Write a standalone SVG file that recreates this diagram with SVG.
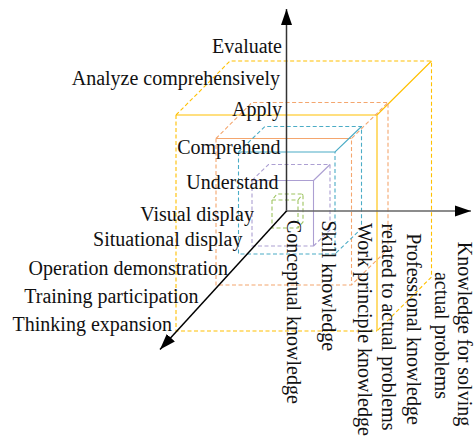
<svg xmlns="http://www.w3.org/2000/svg" width="476" height="441" viewBox="0 0 476 441">
<defs>
<marker id="ah" markerUnits="userSpaceOnUse" markerWidth="17" markerHeight="12" refX="16" refY="6" orient="auto">
<path d="M0,0.5 L16,6 L0,11.5 z" fill="#000"/>
</marker>
<style>
.t{font-family:"Liberation Serif","Times New Roman",serif;font-size:20px;fill:#111}
.c{fill:none;stroke-width:1.1}
.d{stroke-dasharray:4 2.5}
.y{stroke:#FFC000}.o{stroke:#F4A66E}.cy{stroke:#4BACC6}.p{stroke:#AC9FD2}.g{stroke:#9DC45F}
</style>
</defs>
<rect width="476" height="441" fill="#fff"/>

<g id="cube-yellow" class="c y">
<path class="d" d="M176,115 V331 H377 M176,115 L230,61 H431.5 V277 L377,331"/>
<path d="M176,115 H377 V331 M377,115 L431.5,61"/>
</g>
<g id="cube-orange" class="c o">
<path class="d" d="M216,138.5 V285 H351.5 V138.5 L388,102.5 V249 L351.5,285 M216,138.5 L252,102.5 H388"/>
<path d="M216,138.5 H351.5"/>
</g>
<g id="cube-cyan" class="c cy">
<path class="d" d="M238.5,152 V254 H335 V152 M238.5,152 L265,126.5 H361.5 V228.5 L335,254"/>
<path d="M238.5,152 H335 L361.5,126.5"/>
</g>
<g id="cube-purple" class="c p">
<path class="d" d="M252,180.5 V246 H313.5 M252,180.5 L268.5,164.5 H330 V230 L313.5,246"/>
<path d="M252,180.5 H313.5 V246 M313.5,180.5 L330,164.5"/>
</g>
<g id="cube-green" class="c g">
<path class="d" d="M272,200 V228 H298 V200 H272 L277,194 H303 V222 L298,228 M298,200 L303,194"/>
</g>

<g id="axes" fill="none" stroke-width="1.5">
<line x1="286.5" y1="212" x2="286.5" y2="9" stroke="#333" marker-end="url(#ah)"/>
<line x1="286" y1="211" x2="471" y2="211" stroke="#666" marker-end="url(#ah)"/>
<line x1="286.5" y1="211" x2="160" y2="349.5" stroke="#000" marker-end="url(#ah)"/>
</g>

<g id="labels-vertical" class="t" text-anchor="end">
<text x="282" y="52.5">Evaluate</text>
<text x="280" y="85">Analyze comprehensively</text>
<text x="282" y="116">Apply</text>
<text x="280.5" y="153.5">Comprehend</text>
<text x="278.5" y="188.5">Understand</text>
</g>
<g id="labels-diagonal" class="t" text-anchor="end">
<text x="254" y="221">Visual display</text>
<text x="242.5" y="246">Situational display</text>
<text x="228" y="275">Operation demonstration</text>
<text x="198.5" y="302.5">Training participation</text>
<text x="172" y="331">Thinking expansion</text>
</g>
<g id="labels-horizontal" class="t">
<text transform="translate(286.5,220) rotate(90)">Conceptual knowledge</text>
<text transform="translate(322,220.5) rotate(90)">Skill knowledge</text>
<text transform="translate(357.5,223) rotate(90)">Work principle knowledge</text>
<text transform="translate(407,329) rotate(90)" text-anchor="middle">Professional knowledge</text>
<text transform="translate(382,327) rotate(90)" text-anchor="middle">related to actual problems</text>
<text transform="translate(457.5,334) rotate(90)" text-anchor="middle">Knowledge for solving</text>
<text transform="translate(435,335.5) rotate(90)" text-anchor="middle">actual problems</text>
</g>
</svg>
